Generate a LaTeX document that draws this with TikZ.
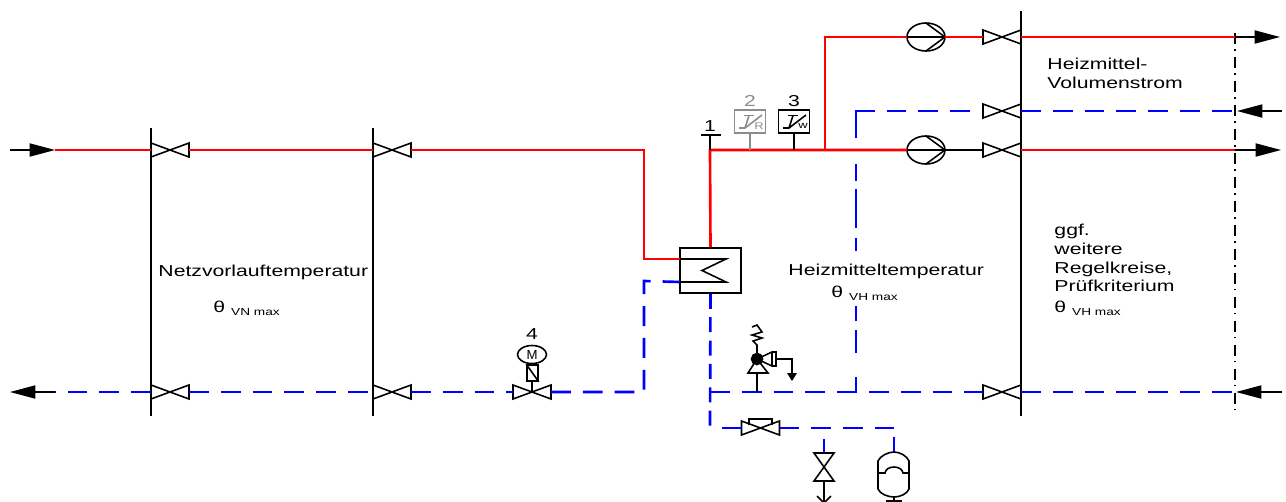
\documentclass[tikz,border=0pt]{standalone}
\usepackage{fontspec}
\setmainfont{Liberation Sans}
\usetikzlibrary{arrows.meta,shapes.geometric}
\tikzset{
	vorlauf/.style={draw=red,line width=1.5pt},
	ruecklauf/.style={draw=blue,line width=1.5pt,dash pattern=on 11.3pt off 6.8pt},
	achse/.style={draw=black,line width=1.2pt},
	sym/.style={draw=black,line width=.9pt},
	pfeil/.style={draw=black,line width=.8pt,-{Triangle[length=14.5pt,width=7.5pt]}},
	beschr/.style={font=\fontsize{9}{10.6}\selectfont,xscale=1.34,inner sep=0pt},
	klein/.style={font=\fontsize{5.5}{6}\selectfont,xscale=1.34,inner sep=0pt},
	ventil/.pic={
		\draw[sym] (-19,-7) -- (19,7) -- (19,-7) -- (-19,7) -- cycle;
		\coordinate (-l) at (-19,0);
		\coordinate (-r) at (19,0);
	},
	pumpe/.pic={
		\draw[sym] (0,0) ellipse [x radius=19,y radius=14];
		\draw[sym] (-19,0) -- (19,0);
		\draw[sym] (0,-14) -- (19,0) -- (0,14);
		\coordinate (-l) at (-19,0);
		\coordinate (-r) at (19,0);
	}
}
\newcommand{\sub}[1]{\raisebox{-2pt}{\fontsize{5.8}{7}\selectfont #1}}
\begin{document}
\begin{tikzpicture}[x=0.02cm,y=-0.02cm]
	\clip (0,0) rectangle (1286,501);
%Achsen
	\draw[achse] (151,128) -- (151,416);
	\draw[achse] (373,128) -- (373,416);
	\draw[achse] (1021,11) -- (1021,416);
	\draw[draw=black,line width=.9pt,dash pattern=on 6.4pt off 2.8pt on .85pt off 3.6pt] (1235,33) -- (1235,412);
%Ventile und Pumpen
	\pic (vNa) at (170,150) {ventil};
	\pic (vNb) at (392,150) {ventil};
	\pic (rNa) at (170,392) {ventil};
	\pic (rNb) at (392,392) {ventil};
	\pic (vM) at (532,392) {ventil};
	\pic (vHa) at (1002,37) {ventil};
	\pic (vHr) at (1002,111) {ventil};
	\pic (vHb) at (1002,150) {ventil};
	\pic (rH) at (1002,392) {ventil};
	\pic (vS) at (760.5,428) {ventil};
	\pic (pA) at (926,37) {pumpe};
	\pic (pB) at (926,150) {pumpe};
%Punkte im Netz
	\coordinate (einV) at (55,150);
	\coordinate (einR) at (55,392);
	\coordinate (ausA) at (1235,37);
	\coordinate (ausB) at (1235,150);
	\coordinate (ausR) at (1235,111);
	\coordinate (ausU) at (1235,392);
	\coordinate (tHeiz) at (710,150);
	\coordinate (tAbzw) at (825,150);
	\coordinate (tRueck) at (710,392);
	\coordinate (tEck) at (856,111);
	\coordinate (tUnten) at (856,392);
	\coordinate (tSv) at (757,392);
%Waermetauscher
	\node[draw=black,line width=1pt,minimum width=1.22cm,minimum height=0.9cm,inner sep=0pt] (wt) at (710.5,270.5) {};
	\coordinate (wtVor) at (680,259);
	\coordinate (wtRue) at (680,282);
%Vorlauf
	\draw[vorlauf] (einV) -- (vNa-l);
	\draw[vorlauf] (vNa-r) -- (vNb-l);
	\draw[vorlauf] (vNb-r) -- (644,150) -- (644,259) -- (wtVor);
	\draw[vorlauf] (wt.north) -- (tHeiz) -- (pB-l);
	\draw[vorlauf] (tAbzw) -- (825,37) -- (pA-l);
	\draw[vorlauf] (pA-r) -- (vHa-l);
	\draw[sym] (pB-r) -- (vHb-l);
	\draw[vorlauf] (vHa-r) -- (ausA);
	\draw[vorlauf] (vHb-r) -- (ausB);
%Ruecklauf
	\draw[ruecklauf] (rNa-l) -- (einR);
	\draw[ruecklauf] (rNa-r) -- (rNb-l);
	\draw[ruecklauf] (rNb-r) -- (vM-l);
	\draw[ruecklauf] (vM-r) -- (644,392) -- (644,281) -- (wtRue);
	\draw[ruecklauf,dash pattern=on 8.5pt off 4.8pt] (wt.south) -- (710,426);
	\draw[ruecklauf,solid] (722,428) -- (vS-l);
	\draw[ruecklauf] (tRueck) -- (rH-l);
	\draw[ruecklauf] (rH-r) -- (ausU);
	\draw[ruecklauf] (vHr-r) -- (ausR);
	\draw[ruecklauf,dash pattern=on 8.5pt off 13.6pt on 13pt off 5.1pt on 8.5pt off 31.7pt on 7.4pt off 5.7pt on 22.1pt off 4.5pt on 9.6pt off 14.7pt on 26.1pt off 6.8pt on 11.3pt off 6.8pt on 11.3pt off 6.8pt on 11.3pt off 30pt] (tUnten) -- (tEck) -- (vHr-l);
	\draw[sym] (wtVor) -- (726,259) -- (702,270.5) -- (726,282) -- (wtRue);
%Pfeile
	\draw[pfeil] (ausA) -- (1280,37);
	\draw[pfeil] (ausB) -- (1281,150);
	\draw[pfeil] (1282,111) -- (1237,111);
	\draw[pfeil] (1282,392) -- (1236,392);
	\draw[pfeil] (10,150) -- (einV);
	\draw[pfeil] (einR) -- (10,392);
%Temperaturfuehler
	\node[anchor=base,beschr] (nrEins) at (710,131) {1};
	\coordinate (fEins) at (710,135);
	\draw[sym] (701,135) -- (721,135);
	\draw[sym] (fEins) -- (tHeiz);
	\foreach \x/\farbe/\nr/\idx in {750/black!45/2/R,794/black/3/w}{
		\node[draw=\farbe,line width=1pt,minimum width=0.62cm,minimum height=0.46cm,inner sep=0pt] (fuehler\nr) at (\x,121.5) {};
		\draw[draw=\farbe,line width=.9pt] (fuehler\nr.south) -- (\x,150);
		\draw[draw=\farbe,line width=.9pt] (\x-11,128) -- (\x-5,128) -- (\x+12,115);
		\draw[draw=\farbe,line width=.9pt] (\x-6,115.5) -- (\x+4,115.5);
		\draw[draw=\farbe,line width=.9pt] (\x-1,115.5) -- (\x-5,128);
		\node[anchor=base,beschr,text=\farbe] (nr\nr) at (\x,106) {\nr};
		\node[klein,text=\farbe] (idx\nr) at (\x+9,126) {\idx};
	}
%Motorventil
	\node[anchor=base,beschr] (nrVier) at (532,339) {4};
	\draw[sym] (532,392) -- (532,381);
	\node[draw=black,line width=.9pt,minimum width=0.22cm,minimum height=0.32cm,inner sep=0pt] (stell) at (532.5,373) {};
	\draw[sym] (stell.north west) -- (stell.south east);
	\node[draw=black,line width=.9pt,ellipse,minimum width=0.58cm,minimum height=0.36cm,inner sep=0pt] (motor) at (532,354.5) {};
	\node[inner sep=0pt,font=\fontsize{7.5}{8}\selectfont] (motorM) at (532,354.5) {M};
%Sicherheitsventil
	\filldraw[sym] (757,359) circle (5.5);
	\draw[sym] (757,359) -- (748,373) -- (768,373) -- cycle;
	\draw[sym] (tSv) -- (757,373);
	\draw[sym] (757,359) -- (772,352) -- (772,366) -- cycle;
	\draw[sym] (772,352) -- (776,352) -- (776,366) -- (772,366);
	\draw[sym] (757,359) -- (757,345) -- (753,341) -- (762,338) -- (752,335) -- (762,332) -- (757,325) -- (752,327);
	\draw[sym] (776,359) -- (792,359) -- (792,373);
	\fill (787,373) -- (797,373) -- (792,381) -- cycle;
%Schieber
	\draw[sym] (749,425) -- (749,419) -- (772,419) -- (772,425);
%Entleerung und Ausdehnungsgefaess
	\coordinate (vDo) at (824,453);
	\coordinate (vDu) at (824,481);
	\coordinate (gefO) at (894,452);
	\draw[ruecklauf,solid] (vDo) -- (824,439);
	\draw[ruecklauf,solid] (gefO) -- (894,437);
	\draw[sym] (814,453) -- (834,453) -- (814,481) -- (834,481) -- cycle;
	\draw[sym] (vDu) -- (824,503);
	\draw[sym] (817,496) -- (824,503) -- (831,496);
	\draw[sym] (878,461) .. controls (880,456) and (888,452) .. (gefO) .. controls (900,452) and (907,456) .. (909,461) -- (909,489) .. controls (907,494) and (900,497) .. (894,497) .. controls (888,497) and (880,494) .. (878,489) -- cycle;
	\draw[sym] (878,473) -- (885,473) .. controls (886,465) and (902,465) .. (903,473) -- (909,473);
	\draw[sym] (894,497) -- (894,501);
	\draw[sym] (886,501) -- (902,501);
	\draw[ruecklauf] (vS-r) -- (894,428);
%Beschriftung
	\node[anchor=base west,beschr] (tNetz) at (158,276) {Netzvorlauftemperatur};
	\node[anchor=base west,beschr] (tThetaN) at (213,312) {θ \sub{VN max}};
	\node[anchor=base west,beschr] (tHzm) at (788,275) {Heizmitteltemperatur};
	\node[anchor=base west,beschr] (tThetaH) at (831,297) {θ \sub{VH max}};
	\node[anchor=north west,beschr,align=left] (tVol) at (1047,58) {Heizmittel-\\Volumenstrom};
	\node[anchor=north west,beschr,align=left] (tKreise) at (1054,224) {ggf.\\weitere\\Regelkreise,\\Prüfkriterium};
	\node[anchor=base west,beschr] (tThetaK) at (1054,312) {θ \sub{VH max}};
\end{tikzpicture}
\end{document}
